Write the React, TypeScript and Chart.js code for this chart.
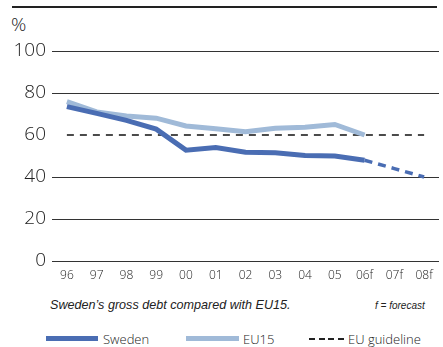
import React, { useEffect, useRef } from "react";
import { Chart, registerables } from "chart.js";

Chart.register(...registerables);

const years = ["96", "97", "98", "99", "00", "01", "02", "03", "04", "05", "06f", "07f", "08f"];
const sweden = [73.5, 70.3, 67, 62.8, 52.8, 54, 51.8, 51.6, 50.2, 50, 48, null, null];
const swedenForecast = [null, null, null, null, null, null, null, null, null, null, 48, 44, 40];
const eu15 = [75.9, 71, 69, 68, 64.3, 63, 61.6, 63.2, 63.7, 65, 60, null, null];
const guideline = [60, 60, 60, 60, 60, 60, 60, 60, 60, 60, 60, 60, 60];
const yTicks = [0, 20, 40, 60, 80, 100];

const SWEDEN_COLOR = "#4a6db3";
const EU_COLOR = "#a0bad8";
const FONT = "'Open Sans', 'DejaVu Sans', sans-serif";

export default function App() {
  const ref = useRef<HTMLCanvasElement | null>(null);

  useEffect(() => {
    if (!ref.current) return;
    const chart = new Chart(ref.current, {
      type: "line",
      data: {
        labels: years,
        datasets: [
          {
            label: "Sweden",
            data: sweden,
            borderColor: SWEDEN_COLOR,
            borderWidth: 5,
            pointRadius: 0,
            tension: 0,
            spanGaps: false,
          },
          {
            label: "Sweden forecast",
            data: swedenForecast,
            borderColor: SWEDEN_COLOR,
            borderWidth: 3.5,
            borderDash: [8, 6],
            pointRadius: 0,
            tension: 0,
          },
          {
            label: "EU15",
            data: eu15,
            borderColor: EU_COLOR,
            borderWidth: 5,
            pointRadius: 0,
            tension: 0,
          },
          {
            label: "EU guideline",
            data: guideline,
            borderColor: "#111",
            borderWidth: 1.5,
            borderDash: [7, 6],
            pointRadius: 0,
            tension: 0,
          },
        ],
      },
      options: {
        animation: false,
        responsive: false,
        maintainAspectRatio: false,
        layout: { padding: { top: 51, right: 4, left: 0, bottom: 0 } },
        plugins: {
          legend: { display: false },
          tooltip: { enabled: false },
          title: { display: false },
        },
        scales: {
          x: {
            type: "category",
            offset: true,
            grid: { display: false, drawTicks: false },
            border: { display: false },
            ticks: {
              color: "#222",
              font: { family: FONT, size: 12, weight: "300" },
              padding: 7,
              maxRotation: 0,
              autoSkip: false,
            },
            afterFit: (scale: any) => {
              scale.height = 24;
            },
          },
          y: {
            min: 0,
            max: 100,
            afterBuildTicks: (scale: any) => {
              scale.ticks = yTicks.map((v) => ({ value: v }));
            },
            grid: {
              drawTicks: false,
              color: (ctx: any) => (ctx.tick && ctx.tick.value === 60 ? "rgba(0,0,0,0)" : "#333"),
              lineWidth: 1,
            },
            border: { display: false },
            ticks: {
              color: "#222",
              font: { family: FONT, size: 19, weight: "300" },
              padding: 6,
            },
            afterFit: (scale: any) => {
              scale.width = 52;
            },
          },
        },
      },
    });
    return () => chart.destroy();
  }, []);

  const swatch = (color: string, h: number) => ({
    position: "absolute" as const,
    height: h,
    background: color,
  });

  return (
    <div
      style={{
        position: "fixed",
        left: 0,
        top: 0,
        width: 443,
        height: 347,
        background: "#fff",
        overflow: "hidden",
        fontFamily: FONT,
        fontWeight: 300,
        color: "#222",
      }}
    >
      <div style={{ position: "absolute", left: 12, top: 6, width: 425, height: 2, background: "#222" }} />
      <div style={{ position: "absolute", left: 11, top: 11, fontSize: 19, lineHeight: "26px" }}>%</div>
      <canvas ref={ref} width={443} height={285} style={{ position: "absolute", left: 0, top: 0 }} />
      <div
        style={{
          position: "absolute",
          left: 50,
          top: 297,
          fontSize: 12.6,
          fontStyle: "italic",
          fontWeight: 400,
          fontFamily: "'Liberation Sans', Arial, sans-serif",
          whiteSpace: "nowrap",
          lineHeight: "16px",
        }}
      >
        Sweden’s gross debt compared with EU15.
      </div>
      <div
        style={{
          position: "absolute",
          left: 375,
          top: 300,
          fontSize: 10,
          fontStyle: "italic",
          fontWeight: 400,
          fontFamily: "'Liberation Sans', Arial, sans-serif",
          whiteSpace: "nowrap",
          lineHeight: "12px",
        }}
      >
        f = forecast
      </div>
      <div style={{ ...swatch(SWEDEN_COLOR, 5), left: 46, top: 336, width: 52 }} />
      <div style={{ position: "absolute", left: 103, top: 330, fontSize: 13, lineHeight: "18px" }}>Sweden</div>
      <div style={{ ...swatch(EU_COLOR, 5), left: 186, top: 336, width: 53 }} />
      <div style={{ position: "absolute", left: 243, top: 330, fontSize: 13, lineHeight: "18px" }}>EU15</div>
      <div
        style={{
          position: "absolute",
          left: 309,
          top: 338,
          width: 35,
          height: 1.5,
          background: "repeating-linear-gradient(to right, #222 0 6px, transparent 6px 9.7px)",
        }}
      />
      <div style={{ position: "absolute", left: 348, top: 330, fontSize: 13, lineHeight: "18px", whiteSpace: "nowrap" }}>
        EU guideline
      </div>
    </div>
  );
}
